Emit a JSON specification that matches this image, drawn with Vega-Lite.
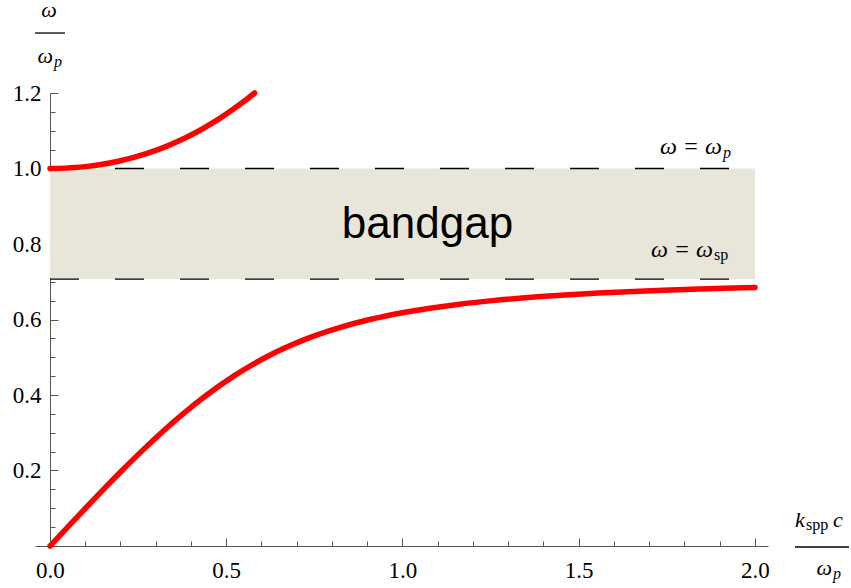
{
  "$schema": "https://vega.github.io/schema/vega-lite/v6.json",
  "width": 733,
  "height": 453,
  "autosize": {"type": "none"},
  "padding": {"left": 35, "top": 93, "right": 83, "bottom": 42},
  "background": "white",
  "config": {"view": {"stroke": null}},
  "resolve": {"axis": {"x": "independent", "y": "independent"}},
  "encoding": {
    "x": {"field": "x", "type": "quantitative", "scale": {"domain": [-0.04255, 2.0369], "nice": false, "zero": false}, "axis": null},
    "y": {"field": "y", "type": "quantitative", "scale": {"domain": [0, 1.2], "nice": false, "zero": false}, "axis": null}
  },
  "layer": [
    {
      "data": {"values": [{"x": 0, "x2": 2, "y": 0.7071, "y2": 1}]},
      "mark": {"type": "rect", "fill": "#e8e5d9"},
      "encoding": {
        "x": {"field": "x", "type": "quantitative", "scale": {"domain": [-0.04255, 2.0369], "nice": false, "zero": false},
          "axis": {"orient": "bottom", "values": [0, 0.5, 1, 1.5, 2], "format": ".1f", "tickSize": -8, "labelPadding": 21, "labelFont": "Liberation Serif", "labelFontSize": 23, "labelColor": "black", "domainColor": "#555", "tickColor": "#555", "grid": false, "title": null, "labelFlush": false, "labelOverlap": false}},
        "x2": {"field": "x2"},
        "y": {"field": "y", "type": "quantitative", "scale": {"domain": [0, 1.2], "nice": false, "zero": false},
          "axis": {"orient": "left", "offset": -15, "values": [0.2, 0.4, 0.6, 0.8, 1, 1.2], "format": ".1f", "tickSize": -8, "labelPadding": 17, "labelFont": "Liberation Serif", "labelFontSize": 23, "labelColor": "black", "domainColor": "#555", "tickColor": "#555", "grid": false, "title": null, "labelFlush": false, "labelOverlap": false}},
        "y2": {"field": "y2"}
      }
    },
    {
      "data": {"values": [{"x": 0, "x2": 2, "y": 1}, {"x": 0, "x2": 2, "y": 0.7071}]},
      "mark": {"type": "rule", "stroke": "black", "strokeWidth": 1.3, "strokeDash": [29, 36]},
      "encoding": {
        "x": {"field": "x", "type": "quantitative", "scale": {"domain": [-0.04255, 2.0369], "nice": false, "zero": false},
          "axis": {"orient": "bottom", "values": [0.1, 0.2, 0.3, 0.4, 0.6, 0.7, 0.8, 0.9, 1.1, 1.2, 1.3, 1.4, 1.6, 1.7, 1.8, 1.9], "labels": false, "domain": false, "tickSize": -5, "tickColor": "#555", "grid": false, "title": null}},
        "x2": {"field": "x2"},
        "y": {"field": "y", "type": "quantitative", "scale": {"domain": [0, 1.2], "nice": false, "zero": false},
          "axis": {"orient": "left", "offset": -15, "values": [0.05, 0.1, 0.15, 0.25, 0.3, 0.35, 0.45, 0.5, 0.55, 0.65, 0.7, 0.75, 0.85, 0.9, 0.95, 1.05, 1.1, 1.15], "labels": false, "domain": false, "tickSize": -5, "tickColor": "#555", "grid": false, "title": null}}
      }
    },
    {
      "data": {"values": [
        {"branch": "lower", "x": 0, "y": 0},
        {"branch": "lower", "x": 0.05013, "y": 0.05},
        {"branch": "lower", "x": 0.10051, "y": 0.1},
        {"branch": "lower", "x": 0.15176, "y": 0.15},
        {"branch": "lower", "x": 0.2043, "y": 0.2},
        {"branch": "lower", "x": 0.25877, "y": 0.25},
        {"branch": "lower", "x": 0.31604, "y": 0.3},
        {"branch": "lower", "x": 0.37733, "y": 0.35},
        {"branch": "lower", "x": 0.44458, "y": 0.4},
        {"branch": "lower", "x": 0.52098, "y": 0.45},
        {"branch": "lower", "x": 0.61237, "y": 0.5},
        {"branch": "lower", "x": 0.66702, "y": 0.525},
        {"branch": "lower", "x": 0.73086, "y": 0.55},
        {"branch": "lower", "x": 0.79141, "y": 0.57},
        {"branch": "lower", "x": 0.82599, "y": 0.58},
        {"branch": "lower", "x": 0.90712, "y": 0.6},
        {"branch": "lower", "x": 1.01169, "y": 0.62},
        {"branch": "lower", "x": 1.07744, "y": 0.63},
        {"branch": "lower", "x": 1.15652, "y": 0.64},
        {"branch": "lower", "x": 1.25466, "y": 0.65},
        {"branch": "lower", "x": 1.38159, "y": 0.66},
        {"branch": "lower", "x": 1.46105, "y": 0.665},
        {"branch": "lower", "x": 1.55584, "y": 0.67},
        {"branch": "lower", "x": 1.67174, "y": 0.675},
        {"branch": "lower", "x": 1.74033, "y": 0.6775},
        {"branch": "lower", "x": 1.81815, "y": 0.68},
        {"branch": "lower", "x": 1.9075, "y": 0.6825},
        {"branch": "lower", "x": 2.0, "y": 0.6847},
        {"branch": "upper", "x": 0, "y": 1.0},
        {"branch": "upper", "x": 0.04469, "y": 1.001},
        {"branch": "upper", "x": 0.07058, "y": 1.0025},
        {"branch": "upper", "x": 0.09963, "y": 1.005},
        {"branch": "upper", "x": 0.1404, "y": 1.01},
        {"branch": "upper", "x": 0.19721, "y": 1.02},
        {"branch": "upper", "x": 0.27546, "y": 1.04},
        {"branch": "upper", "x": 0.3337, "y": 1.06},
        {"branch": "upper", "x": 0.38161, "y": 1.08},
        {"branch": "upper", "x": 0.42302, "y": 1.1},
        {"branch": "upper", "x": 0.4599, "y": 1.12},
        {"branch": "upper", "x": 0.49343, "y": 1.14},
        {"branch": "upper", "x": 0.52438, "y": 1.16},
        {"branch": "upper", "x": 0.55329, "y": 1.18},
        {"branch": "upper", "x": 0.5805, "y": 1.2}
      ]},
      "mark": {"type": "line", "stroke": "#ff0000", "strokeWidth": 5.5, "strokeCap": "round", "interpolate": "monotone"},
      "encoding": {"detail": {"field": "branch"}}
    },
    {
      "data": {"values": [{"x": 1.9064, "y": 1.0384, "text": "ω = ω"}, {"x": 1.8809, "y": 0.7656, "text": "ω = ω"}]},
      "mark": {"type": "text", "font": "Liberation Serif", "fontStyle": "italic", "fontSize": 24, "align": "right", "baseline": "alphabetic", "color": "black"},
      "encoding": {"text": {"field": "text"}}
    },
    {
      "data": {"values": [{"x": 1.9092, "y": 1.0278, "text": "p"}, {"x": 0.0113, "y": 1.2689, "text": "p"}, {"x": 2.2213, "y": -0.0874, "text": "p"}]},
      "mark": {"type": "text", "font": "Liberation Serif", "fontStyle": "italic", "fontSize": 16, "align": "left", "baseline": "alphabetic", "color": "black"},
      "encoding": {"text": {"field": "text"}}
    },
    {
      "data": {"values": [{"x": 1.8837, "y": 0.7576, "text": "sp"}, {"x": 2.1447, "y": 0.0424, "text": "spp"}]},
      "mark": {"type": "text", "font": "Liberation Serif", "fontSize": 16, "align": "left", "baseline": "alphabetic", "color": "black"},
      "encoding": {"text": {"field": "text"}}
    },
    {
      "data": {"values": [{"x": 1.0709, "y": 0.8159, "text": "bandgap"}]},
      "mark": {"type": "text", "font": "Liberation Sans", "fontSize": 44, "align": "center", "baseline": "alphabetic", "color": "black"},
      "encoding": {"text": {"field": "text"}}
    },
    {
      "data": {"values": [{"x": -0.0028, "y": 1.4013, "text": "ω"}]},
      "mark": {"type": "text", "font": "Liberation Serif", "fontStyle": "italic", "fontSize": 22, "align": "center", "baseline": "alphabetic", "color": "black"},
      "encoding": {"text": {"field": "text"}}
    },
    {
      "data": {"values": [{"x": 0.0085, "y": 1.2795, "text": "ω"}, {"x": 2.2184, "y": -0.0768, "text": "ω"}]},
      "mark": {"type": "text", "font": "Liberation Serif", "fontStyle": "italic", "fontSize": 22, "align": "right", "baseline": "alphabetic", "color": "black"},
      "encoding": {"text": {"field": "text"}}
    },
    {
      "data": {"values": [{"x": 2.1135, "y": 0.0503, "text": "k"}, {"x": 2.2213, "y": 0.0503, "text": "c"}]},
      "mark": {"type": "text", "font": "Liberation Serif", "fontStyle": "italic", "fontSize": 22, "align": "left", "baseline": "alphabetic", "color": "black"},
      "encoding": {"text": {"field": "text"}}
    },
    {
      "data": {"values": [{"x": -0.0426, "x2": 0.0426, "y": 1.3589}, {"x": 2.1135, "x2": 2.2667, "y": -0.0026}]},
      "mark": {"type": "rule", "stroke": "black", "strokeWidth": 1.3},
      "encoding": {"x2": {"field": "x2"}}
    }
  ]
}
